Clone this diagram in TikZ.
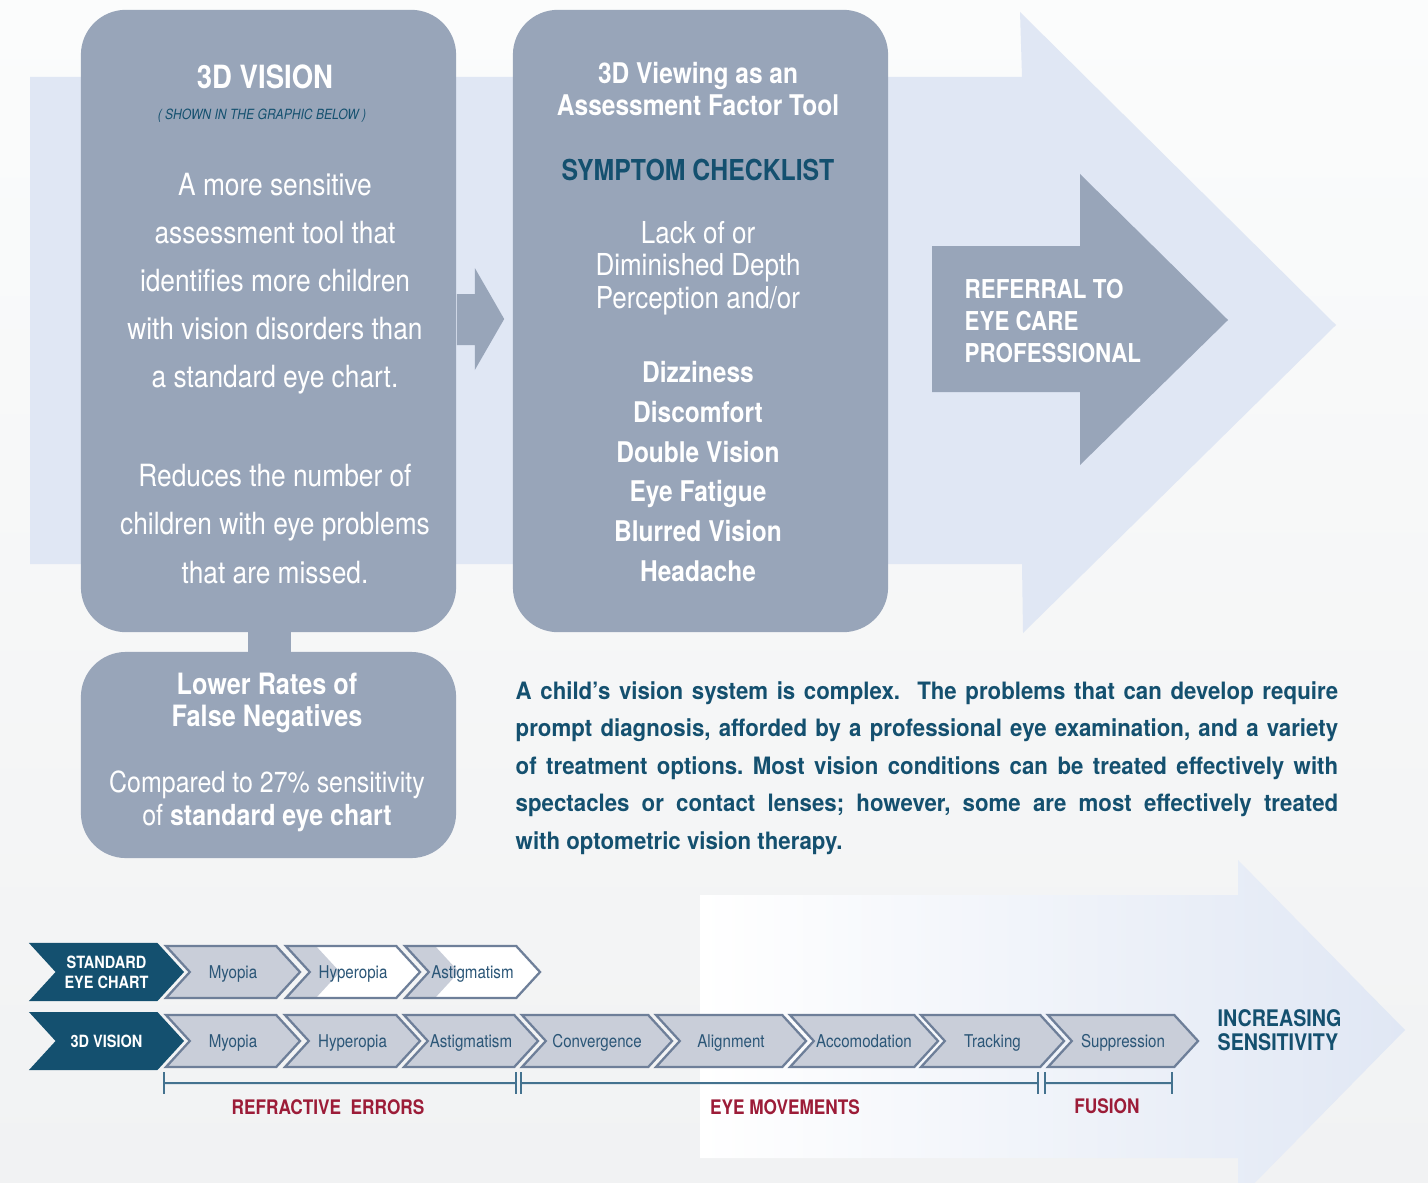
\documentclass[tikz,border=0pt]{standalone}
\usepackage{fontspec}
\setmainfont{TeX Gyre Heros}[FakeStretch=0.86]
\newfontfamily\widefont{TeX Gyre Heros}[FakeStretch=0.93]
\usetikzlibrary{shapes.symbols,calc}
\definecolor{pagetop}{HTML}{FBFCFC}
\definecolor{pagebot}{HTML}{F1F2F3}
\definecolor{bandblue}{HTML}{E0E7F4}
\definecolor{panelgray}{HTML}{98A5B9}
\definecolor{navy}{HTML}{14506F}
\definecolor{chevfill}{HTML}{C9CED9}
\definecolor{chevline}{HTML}{6E7F99}
\definecolor{chevtext}{HTML}{2B5677}
\definecolor{darkred}{HTML}{9C1C38}
\definecolor{rulecol}{HTML}{44728F}
\newcommand{\fsz}[2]{\fontsize{#1}{#2}\selectfont}
\newcommand{\fullline}[1]{\makebox[8.22cm][s]{#1}}
\tikzset{panel/.style={fill=panelgray, rounded corners=0.45cm, minimum width=3.75cm, inner sep=0pt}}
\tikzset{wtext/.style={text=white, align=center, inner sep=0pt}}
\tikzset{chev/.style={signal, signal from=west, signal to=east, signal pointer angle=95, fill=chevfill, draw=chevline, line width=.65pt, minimum height=.52cm, inner sep=0pt, text=chevtext, text height=4.5pt, text depth=.8pt, font=\fsz{5}{6}}}
\tikzset{chevhead/.style={chev, fill=navy, draw=none, minimum height=.58cm, text=white, align=center, text height=, text depth=, font=\bfseries\fsz{4.8}{5.6}}}
\tikzset{halfwhite/.style={fill=white, path picture={\fill[chevfill] (path picture bounding box.north west) -- ++(30,0) -- ++(24,26) -- ++(-24,26) -- (path picture bounding box.south west) -- cycle;}}}
\tikzset{brk/.style={draw=rulecol, line width=.6pt, |-|}}
\tikzset{grouplabel/.style={text=darkred, font=\bfseries\fsz{5.7}{6.5}, inner sep=0pt}}
\frenchspacing
\begin{document}
\begin{tikzpicture}[x=0.01cm, y=-0.01cm]
  \useasboundingbox (0,0) rectangle (1428,1182);
  \clip (0,0) rectangle (1428,1182);
  \shade[top color=pagetop, bottom color=pagebot] (0,0) rectangle (1428,1182);
  % big band arrow behind the panels
  \fill[bandblue] (30,77) -- (1022,77) -- (1020,12) -- (1336,325) -- (1023,633) -- (1022,564) -- (30,564) -- cycle;
  % panels
  \node[panel, minimum height=6.22cm] (vision) at (268.5,321) {};
  \node[panel, minimum height=6.22cm] (checklist) at (700.5,321) {};
  \node[panel, minimum height=2.06cm] (falseneg) at (268.5,755) {};
  \fill[panelgray] ($(vision.south)+(-21,-5)$) rectangle ($(falseneg.north)+(22,5)$);
  \fill[panelgray] ($(vision.east)+(0,-27)$) -- ++(18,0) -- ++(0,-26) -- ($(checklist.west)+(-8,-2)$)
    -- ($(vision.east)+(18,49)$) -- ++(0,-25) -- ($(vision.east)+(0,24)$) -- cycle;
  \node[wtext, font=\bfseries\fsz{9.1}{11}] (vtitle) at (265,77) {3D VISION};
  \node[text=navy, font=\itshape\fsz{4}{5}, inner sep=0pt] (vnote) at (262,116) {( SHOWN IN THE GRAPHIC BELOW )};
  \node[wtext, font=\fsz{8.7}{13.66}] (vbody) at (275,284) {A more sensitive\\assessment tool that\\identifies more children\\with vision disorders than\\a standard eye chart.};
  \node[wtext, font=\fsz{8.7}{13.66}] (vmissed) at (275,524) {Reduces the number of\\children with eye problems\\that are missed.};
  \node[wtext, font=\bfseries\fsz{8.1}{9.1}] (ctitle) at (698,89) {3D Viewing as an\\Assessment Factor Tool};
  \node[text=navy, font=\bfseries\fsz{8.2}{9}, inner sep=0pt] (chead) at (698,170) {SYMPTOM CHECKLIST};
  \node[wtext, font=\fsz{8.6}{9.3}] (cdepth) at (698,268) {Lack of or\\Diminished Depth\\Perception and/or};
  \node[wtext, font=\bfseries\fsz{8.1}{11.3}] (csymptoms) at (698,471.5) {Dizziness\\Discomfort\\Double Vision\\Eye Fatigue\\Blurred Vision\\Headache};
  \node[wtext, font=\bfseries\fsz{8.35}{9.1}] (ftitle) at (267,703) {Lower Rates of\\False Negatives};
  \node[wtext, font=\fsz{8.25}{9.4}] (fnote) at (267,801) {Compared to 27\% sensitivity\\of \textbf{standard eye chart}};
  % referral arrow
  \fill[panelgray] (932,246) -- (1080,246) -- (1080,174) -- (1228,320) -- (1080,465) -- (1080,392) -- (932,392) -- cycle;
  \node[anchor=west, text=white, align=left, font=\bfseries\fsz{7.4}{9.1}, inner sep=0pt] (referral) at (964,321) {REFERRAL TO\\EYE CARE\\PROFESSIONAL};
  % paragraph
  \node[anchor=west, align=left, text=navy, font=\widefont\bfseries\fsz{6.8}{10.7}, inner sep=0pt] (intro) at (515,768)
    {\fullline{A child’s vision system is complex.\ \ The problems that can develop require}\\
     \fullline{prompt diagnosis, afforded by a professional eye examination, and a variety}\\
     \fullline{of treatment options. Most vision conditions can be treated effectively with}\\
     \fullline{spectacles or contact lenses; however, some are most effectively treated}\\
     with optometric vision therapy.};
  % sensitivity arrow
  \shade[left color=white, right color=bandblue] (700,895) -- (1238,895) -- (1238,860) -- (1405,1030) -- (1238,1200) -- (1238,1158) -- (700,1158) -- cycle;
  \node[chevhead, minimum width=1.55cm] (stdlabel) at (106.5,972) {STANDARD\\EYE CHART};
  \node[chevhead, minimum width=1.55cm] (vislabel) at (106.5,1041) {3D VISION};
  \node[chev, minimum width=1.34cm] (std1) at (233,972) {Myopia};
  \node[chev, halfwhite, minimum width=1.34cm] (std2) at (353,972) {Hyperopia};
  \node[chev, halfwhite, minimum width=1.35cm] (std3) at (472.5,972) {Astigmatism};
  \foreach \cx/\cw/\lab [count=\i] in {233/1.34/Myopia, 352.5/1.35/Hyperopia, 471/1.34/Astigmatism,
      597/1.50/Convergence, 731/1.50/Alignment, 864/1.48/Accomodation, 992.5/1.43/Tracking, 1123/1.50/Suppression}
    \node[chev, minimum width=\cw cm] (row\i) at (\cx,1041) {\lab};
  \draw[brk] ($(row1.south west)+(0,15)$) -- ($(row3.south east)+(2,15)$);
  \draw[brk] ($(row4.south west)+(1,15)$) -- ($(row7.south east)+(-2,15)$);
  \draw[brk] ($(row8.south west)+(-1,15)$) -- ($(row8.south east)+(-2,15)$);
  \node[grouplabel] (refr) at (328,1107) {REFRACTIVE\ \ ERRORS};
  \node[grouplabel] (eyemov) at (785,1107) {EYE MOVEMENTS};
  \node[grouplabel] (fusion) at (1107,1106) {FUSION};
  \node[anchor=west, text=navy, align=left, font=\bfseries\fsz{6.5}{6.9}, inner sep=0pt] (sens) at (1217,1030) {INCREASING\\SENSITIVITY};
\end{tikzpicture}
\end{document}
